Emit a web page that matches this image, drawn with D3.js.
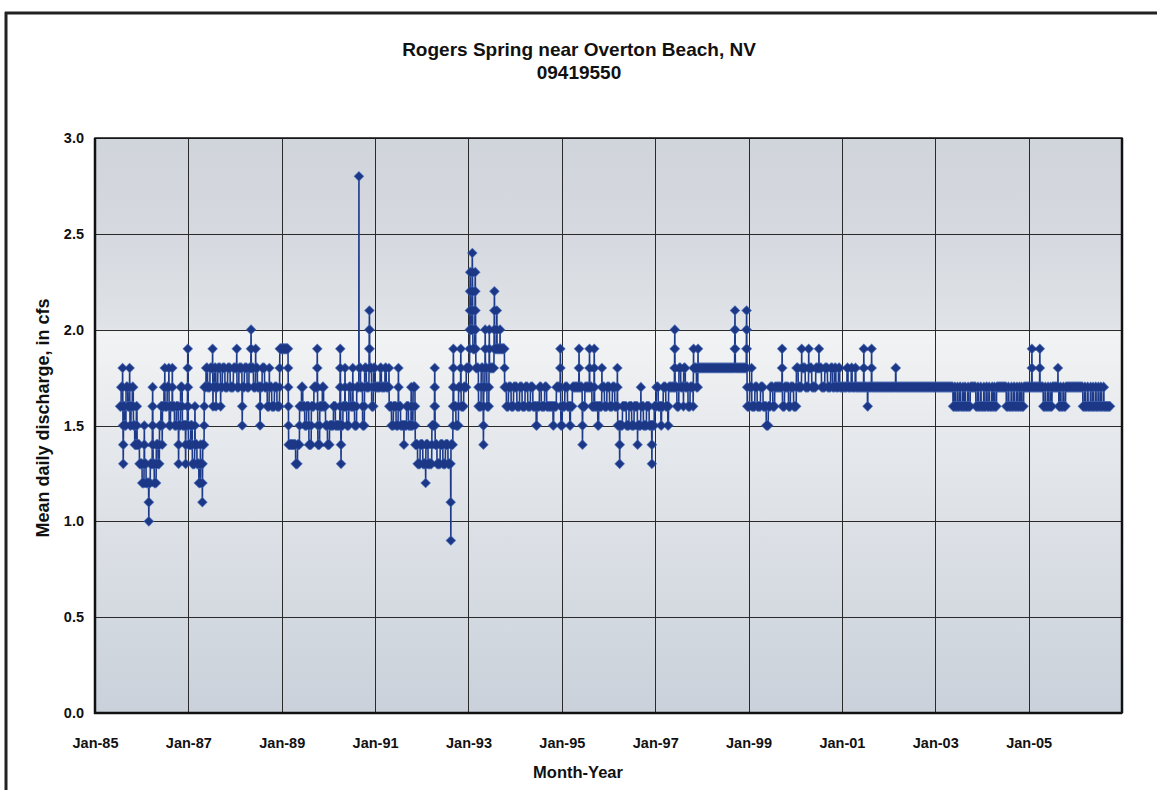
<!DOCTYPE html>
<html>
<head>
<meta charset="utf-8">
<script src="https://cdn.jsdelivr.net/npm/d3@7"></script>
<style>
  body { margin: 0; background: #ffffff; }
  svg text { font-family: "Liberation Sans", Arial, Helvetica, sans-serif; font-weight: bold; fill: #111; }
</style>
</head>
<body>
<svg id="chart" width="1157" height="795"></svg>
<script>
// ---- chart text ----
const titleLines = ["Rogers Spring near Overton Beach, NV", "09419550"];
const yAxisTitle = "Mean daily discharge, in cfs";
const xAxisTitle = "Month-Year";

// ---- axes ----
const yTicks = [0.0, 0.5, 1.0, 1.5, 2.0, 2.5, 3.0];
const xTickYears = [1985, 1987, 1989, 1991, 1993, 1995, 1997, 1999, 2001, 2003, 2005];
const xDomainYears = [1985, 2007];

// ---- daily mean discharge (cfs), run-length encoded ----
// Each entry: start date, then consecutive daily values ("v*n" = n days of v).
// The last value of an entry holds until the next entry starts.
const seriesEnd = "2006-09-30";
const flowRuns = [
  ["1985-07-16", "1.6"],
  ["1985-07-25", "1.7"],
  ["1985-08-05", "1.8 1.7 1.6 1.5 1.4 1.3 1.4 1.5 1.6"],
  ["1985-08-20", "1.5"],
  ["1985-09-01", "1.7"],
  ["1985-09-15", "1.6"],
  ["1985-09-28", "1.7 1.8 1.7 1.6 1.5"],
  ["1985-10-10", "1.6"],
  ["1985-10-20", "1.7"],
  ["1985-10-28", "1.6 1.5"],
  ["1985-11-08", "1.4"],
  ["1985-11-20", "1.5 1.6"],
  ["1985-11-26", "1.5 1.4"],
  ["1985-12-15", "1.3"],
  ["1986-01-05", "1.2"],
  ["1986-01-20", "1.3 1.4 1.5 1.4 1.3"],
  ["1986-02-05", "1.2"],
  ["1986-02-25", "1.1 1.0 1.1 1.2"],
  ["1986-03-10", "1.3"],
  ["1986-03-25", "1.4 1.5 1.6 1.7 1.6 1.5 1.4 1.3"],
  ["1986-04-10", "1.2"],
  ["1986-04-25", "1.3 1.4"],
  ["1986-05-10", "1.3"],
  ["1986-05-20", "1.4 1.5"],
  ["1986-06-01", "1.6"],
  ["1986-06-10", "1.5 1.4 1.5 1.6"],
  ["1986-06-25", "1.7"],
  ["1986-07-01", "1.8 1.7 1.6"],
  ["1986-07-20", "1.7"],
  ["1986-08-02", "1.8 1.7 1.6 1.5"],
  ["1986-08-15", "1.6"],
  ["1986-08-28", "1.7 1.8 1.7 1.6"],
  ["1986-09-15", "1.5"],
  ["1986-09-30", "1.6"],
  ["1986-10-15", "1.5 1.4 1.3 1.4 1.5"],
  ["1986-11-01", "1.6 1.7"],
  ["1986-11-15", "1.6 1.5"],
  ["1986-12-10", "1.4 1.3 1.4 1.5"],
  ["1986-12-25", "1.6 1.7 1.8 1.9 1.8 1.7 1.6 1.5 1.4"],
  ["1987-01-20", "1.5"],
  ["1987-02-01", "1.4 1.3"],
  ["1987-02-20", "1.4 1.5 1.6 1.5 1.4"],
  ["1987-03-10", "1.3"],
  ["1987-03-25", "1.2"],
  ["1987-04-05", "1.3 1.4 1.3"],
  ["1987-04-20", "1.2 1.1 1.2 1.3 1.4"],
  ["1987-05-05", "1.5 1.6 1.7"],
  ["1987-05-20", "1.8"],
  ["1987-06-01", "1.7"],
  ["1987-06-20", "1.8"],
  ["1987-07-10", "1.9 1.8 1.7 1.6 1.7"],
  ["1987-07-25", "1.8"],
  ["1987-08-05", "1.7 1.6 1.7"],
  ["1987-08-20", "1.8"],
  ["1987-09-10", "1.7 1.6 1.7"],
  ["1987-09-25", "1.8"],
  ["1987-10-15", "1.7"],
  ["1987-11-05", "1.8"],
  ["1987-11-25", "1.7"],
  ["1987-12-20", "1.8"],
  ["1988-01-15", "1.9 1.8 1.7"],
  ["1988-02-01", "1.8"],
  ["1988-02-25", "1.7 1.6 1.5 1.6 1.7"],
  ["1988-03-15", "1.8"],
  ["1988-04-05", "1.7"],
  ["1988-04-20", "1.8"],
  ["1988-05-05", "1.9 2.0 1.9 1.8"],
  ["1988-05-25", "1.7"],
  ["1988-06-10", "1.8 1.9 1.8"],
  ["1988-06-25", "1.7"],
  ["1988-07-15", "1.6 1.5 1.6 1.7"],
  ["1988-08-01", "1.8"],
  ["1988-08-20", "1.7"],
  ["1988-09-10", "1.6"],
  ["1988-09-25", "1.7 1.8 1.7"],
  ["1988-10-15", "1.6"],
  ["1988-11-05", "1.7"],
  ["1988-11-25", "1.6"],
  ["1988-12-15", "1.7 1.8 1.9"],
  ["1989-02-20", "1.8 1.7 1.6 1.5 1.4"],
  ["1989-04-20", "1.3"],
  ["1989-05-05", "1.4"],
  ["1989-05-20", "1.5 1.6"],
  ["1989-06-05", "1.7"],
  ["1989-06-15", "1.6"],
  ["1989-06-30", "1.5"],
  ["1989-07-15", "1.6"],
  ["1989-08-01", "1.5 1.4"],
  ["1989-08-20", "1.5 1.6"],
  ["1989-09-10", "1.7"],
  ["1989-10-05", "1.8 1.9 1.8 1.7 1.6 1.5 1.4"],
  ["1989-10-25", "1.5 1.6"],
  ["1989-11-15", "1.7"],
  ["1989-11-25", "1.6"],
  ["1989-12-10", "1.5"],
  ["1989-12-25", "1.4"],
  ["1990-01-10", "1.5"],
  ["1990-02-10", "1.6"],
  ["1990-02-25", "1.5"],
  ["1990-04-01", "1.6 1.7 1.8 1.9 1.8 1.7 1.6 1.5 1.4 1.3 1.4 1.5"],
  ["1990-04-25", "1.6"],
  ["1990-05-10", "1.7 1.8 1.7 1.6"],
  ["1990-05-25", "1.5"],
  ["1990-06-10", "1.6 1.7"],
  ["1990-06-25", "1.6"],
  ["1990-07-10", "1.7 1.8 1.7 1.6"],
  ["1990-07-25", "1.5"],
  ["1990-08-10", "1.6 1.7"],
  ["1990-08-28", "2.8 1.8"],
  ["1990-09-10", "1.7"],
  ["1990-09-25", "1.6 1.5"],
  ["1990-10-10", "1.6 1.7 1.8"],
  ["1990-10-25", "1.7"],
  ["1990-11-15", "1.8 1.9 2.0 2.1 2.0 1.9 1.8"],
  ["1990-12-05", "1.7 1.6"],
  ["1990-12-20", "1.7 1.8"],
  ["1991-01-01", "1.7"],
  ["1991-02-10", "1.8"],
  ["1991-02-20", "1.7"],
  ["1991-03-20", "1.8"],
  ["1991-03-30", "1.7"],
  ["1991-04-20", "1.8 1.7 1.6"],
  ["1991-05-10", "1.5"],
  ["1991-05-25", "1.6"],
  ["1991-06-15", "1.5"],
  ["1991-07-01", "1.6 1.7 1.8 1.7 1.6"],
  ["1991-07-20", "1.5"],
  ["1991-08-15", "1.4 1.5"],
  ["1991-09-05", "1.6"],
  ["1991-09-20", "1.5"],
  ["1991-10-10", "1.6 1.7 1.6 1.5"],
  ["1991-10-25", "1.6 1.7"],
  ["1991-11-10", "1.6 1.5 1.4"],
  ["1991-11-30", "1.3"],
  ["1991-12-20", "1.4"],
  ["1992-01-10", "1.3"],
  ["1992-02-01", "1.2 1.3 1.4"],
  ["1992-02-20", "1.3"],
  ["1992-03-20", "1.4 1.5"],
  ["1992-04-10", "1.6 1.7 1.8 1.7 1.6 1.5 1.4"],
  ["1992-04-30", "1.3"],
  ["1992-05-25", "1.4"],
  ["1992-06-15", "1.3"],
  ["1992-07-05", "1.4"],
  ["1992-07-25", "1.3"],
  ["1992-08-15", "1.1 0.9 1.4"],
  ["1992-09-01", "1.5 1.6 1.7 1.8 1.9 1.8 1.7 1.6"],
  ["1992-09-25", "1.5"],
  ["1992-10-15", "1.6 1.7"],
  ["1992-11-01", "1.8 1.9 1.8 1.7 1.6"],
  ["1992-11-25", "1.7"],
  ["1992-12-15", "1.8"],
  ["1993-01-10", "1.9 2.0 2.1 2.2 2.3 2.2 2.1 2.0"],
  ["1993-01-28", "2.1 2.2 2.3 2.4 2.3 2.2 2.1 2.0 1.9"],
  ["1993-02-20", "2.0 2.1 2.2 2.3 2.2 2.1 2.0 1.9 1.8"],
  ["1993-03-20", "1.7 1.6"],
  ["1993-04-10", "1.7 1.8"],
  ["1993-04-25", "1.7 1.6 1.5 1.4 1.5 1.6 1.7"],
  ["1993-05-10", "1.8 1.9 2.0 1.9 1.8"],
  ["1993-05-25", "1.7 1.6"],
  ["1993-06-10", "1.7 1.8 1.9 2.0 1.9 1.8"],
  ["1993-07-20", "1.9 2.0 2.1 2.2 2.1 2.0 1.9"],
  ["1993-08-10", "2.0 2.1 2.0 1.9"],
  ["1993-09-05", "2.0 1.9"],
  ["1993-10-10", "1.8 1.7"],
  ["1993-10-25", "1.6"],
  ["1993-11-10", "1.7"],
  ["1993-12-01", "1.6"],
  ["1993-12-20", "1.7"],
  ["1994-01-15", "1.6"],
  ["1994-02-05", "1.7"],
  ["1994-02-25", "1.6"],
  ["1994-03-20", "1.7"],
  ["1994-04-10", "1.6"],
  ["1994-05-01", "1.7"],
  ["1994-05-20", "1.6"],
  ["1994-06-15", "1.5*6 1.6"],
  ["1994-07-10", "1.7"],
  ["1994-07-25", "1.6"],
  ["1994-08-20", "1.7"],
  ["1994-09-05", "1.6"],
  ["1994-10-25", "1.5*5 1.6"],
  ["1994-11-20", "1.7"],
  ["1994-12-20", "1.8 1.9 1.8 1.7 1.6 1.5"],
  ["1995-01-05", "1.6"],
  ["1995-01-25", "1.7"],
  ["1995-02-15", "1.6"],
  ["1995-03-05", "1.5*5 1.6"],
  ["1995-03-25", "1.7"],
  ["1995-05-15", "1.8 1.9 1.8 1.7"],
  ["1995-06-10", "1.6 1.5 1.4 1.5 1.6"],
  ["1995-07-01", "1.7"],
  ["1995-08-05", "1.8 1.9 1.8 1.7"],
  ["1995-08-25", "1.6"],
  ["1995-09-10", "1.7 1.8 1.9 1.8 1.7 1.6"],
  ["1995-10-10", "1.5*7 1.6"],
  ["1995-11-10", "1.7 1.8 1.7"],
  ["1995-12-01", "1.6"],
  ["1995-12-20", "1.7"],
  ["1996-01-10", "1.6"],
  ["1996-02-01", "1.7"],
  ["1996-02-20", "1.6"],
  ["1996-03-10", "1.7 1.8 1.7 1.6 1.5"],
  ["1996-03-28", "1.4 1.3 1.4 1.5"],
  ["1996-04-20", "1.6"],
  ["1996-05-20", "1.5"],
  ["1996-06-10", "1.6"],
  ["1996-07-01", "1.5"],
  ["1996-07-20", "1.6"],
  ["1996-08-15", "1.5 1.4 1.5"],
  ["1996-09-10", "1.6 1.7 1.6"],
  ["1996-10-01", "1.5"],
  ["1996-10-25", "1.6"],
  ["1996-11-15", "1.5"],
  ["1996-12-05", "1.4 1.3 1.4 1.5"],
  ["1996-12-25", "1.6"],
  ["1997-01-10", "1.7"],
  ["1997-01-25", "1.6"],
  ["1997-02-15", "1.5*5 1.6"],
  ["1997-03-05", "1.7"],
  ["1997-03-25", "1.6"],
  ["1997-04-10", "1.5*5 1.6 1.7"],
  ["1997-06-01", "1.8 1.9 2.0 1.9 1.8 1.7"],
  ["1997-06-20", "1.6"],
  ["1997-07-05", "1.7 1.8"],
  ["1997-07-20", "1.7"],
  ["1997-08-10", "1.6 1.7 1.8"],
  ["1997-08-25", "1.7"],
  ["1997-09-15", "1.6"],
  ["1997-10-01", "1.7"],
  ["1997-10-25", "1.6 1.7 1.8 1.9 1.8"],
  ["1997-11-20", "1.7"],
  ["1997-12-01", "1.8 1.9 1.8"],
  ["1998-09-15", "1.9 2.0 2.1 2.0 1.9 1.8"],
  ["1998-12-15", "1.9 2.0 2.1 2.0 1.9 1.8 1.7 1.6"],
  ["1999-01-10", "1.7"],
  ["1999-01-25", "1.8 1.7 1.6"],
  ["1999-02-20", "1.7"],
  ["1999-03-10", "1.6"],
  ["1999-04-05", "1.7"],
  ["1999-04-25", "1.6"],
  ["1999-05-20", "1.5"],
  ["1999-06-05", "1.6"],
  ["1999-06-20", "1.7"],
  ["1999-07-10", "1.6"],
  ["1999-07-25", "1.7"],
  ["1999-09-20", "1.8 1.9 1.8 1.7 1.6"],
  ["1999-10-10", "1.7"],
  ["1999-11-10", "1.6"],
  ["1999-11-25", "1.7"],
  ["1999-12-20", "1.6"],
  ["2000-01-10", "1.7 1.8"],
  ["2000-01-25", "1.7"],
  ["2000-02-20", "1.8 1.9 1.8"],
  ["2000-03-20", "1.7"],
  ["2000-04-15", "1.8 1.9 1.8"],
  ["2000-05-10", "1.7"],
  ["2000-06-10", "1.8"],
  ["2000-07-05", "1.9 1.8"],
  ["2000-07-25", "1.7"],
  ["2000-08-20", "1.8"],
  ["2000-09-10", "1.7"],
  ["2000-10-05", "1.8"],
  ["2000-10-20", "1.7"],
  ["2000-11-05", "1.8"],
  ["2000-11-15", "1.7"],
  ["2000-12-05", "1.8"],
  ["2000-12-15", "1.7"],
  ["2001-02-10", "1.8*8 1.7"],
  ["2001-03-15", "1.8*7 1.7"],
  ["2001-04-15", "1.8*5 1.7"],
  ["2001-06-20", "1.8 1.9 1.8 1.7"],
  ["2001-07-20", "1.6*3 1.7"],
  ["2001-08-20", "1.8 1.9 1.8 1.7"],
  ["2002-02-25", "1.8*3 1.7"],
  ["2003-05-20", "1.6*12 1.7*6 1.6*15 1.7*5 1.6*14 1.7*8 1.6*16 1.7*4 1.6*12 1.7*6 1.6*18 1.7*5 1.6*14 1.7"],
  ["2003-11-15", "1.6*14 1.7*5 1.6*16 1.7*6 1.6*20 1.7*4 1.6*15 1.7*8 1.6*14 1.7*5 1.6*18 1.7*6 1.6*12 1.7*5 1.6*14 1.7"],
  ["2004-07-10", "1.6*14 1.7*6 1.6*18 1.7*5 1.6*15 1.7*7 1.6*16 1.7*5 1.6*14 1.7*6 1.6*12 1.7*4 1.6*14 1.7"],
  ["2005-01-25", "1.8 1.9 1.8 1.7"],
  ["2005-03-28", "1.8 1.9 1.8 1.7"],
  ["2005-04-25", "1.6*14 1.7*5 1.6*16 1.7*6 1.6*14 1.7*4 1.6*10 1.7"],
  ["2005-08-18", "1.8 1.7"],
  ["2005-08-25", "1.6*12 1.7*5 1.6*16 1.7*6 1.6*14 1.7"],
  ["2006-03-01", "1.6*14 1.7*5 1.6*16 1.7*6 1.6*18 1.7*5 1.6*14 1.7*4 1.6*16 1.7*6 1.6*15 1.7*5 1.6*14 1.7*6 1.6*16 1.7*5 1.6"]
];

// ---- expand runs into a daily series ----
const parseDay = d3.timeParse("%Y-%m-%d");
const daily = [];
flowRuns.forEach(([start, seq], i) => {
  const from = parseDay(start);
  const to = i + 1 < flowRuns.length
    ? parseDay(flowRuns[i + 1][0])
    : d3.timeDay.offset(parseDay(seriesEnd), 1);
  const vals = [];
  seq.split(/\s+/).forEach(tok => {
    const [v, n] = tok.split("*");
    for (let k = 0; k < (n ? +n : 1); k++) vals.push(+v);
  });
  d3.timeDay.range(from, to).forEach((d, k) => {
    daily.push({ date: d, value: vals[Math.min(k, vals.length - 1)] });
  });
});

// ---- layout ----
const svg = d3.select("#chart");
const plot = { left: 95, right: 1122, top: 138, bottom: 713 };

const x = d3.scaleTime()
  .domain(xDomainYears.map(yr => new Date(yr, 0, 1)))
  .range([plot.left, plot.right]);
const y = d3.scaleLinear().domain([0, 3]).range([plot.bottom, plot.top]);

// outer frame (top and left rules)
svg.append("line").attr("x1", 5).attr("x2", 1157).attr("y1", 13).attr("y2", 13)
  .attr("stroke", "#222").attr("stroke-width", 3);
svg.append("line").attr("x1", 6).attr("x2", 6).attr("y1", 12).attr("y2", 790)
  .attr("stroke", "#222").attr("stroke-width", 3);

// plot background gradient
const defs = svg.append("defs");
const grad = defs.append("linearGradient").attr("id", "plotBg")
  .attr("x1", 0).attr("y1", 0).attr("x2", 0).attr("y2", 1);
[[0, "#d0d4db"], [0.2, "#d7dae0"], [0.332, "#e0e3e7"], [0.337, "#f2f3f4"],
 [0.55, "#e4e7eb"], [1, "#cad1da"]].forEach(([o, c]) =>
  grad.append("stop").attr("offset", o).attr("stop-color", c));

svg.append("rect")
  .attr("x", plot.left).attr("y", plot.top)
  .attr("width", plot.right - plot.left).attr("height", plot.bottom - plot.top)
  .attr("fill", "url(#plotBg)");

// gridlines
const grid = svg.append("g").attr("stroke", "#2a2a2a").attr("stroke-width", 1);
yTicks.forEach(v => grid.append("line")
  .attr("x1", plot.left).attr("x2", plot.right)
  .attr("y1", Math.round(y(v)) + 0.5).attr("y2", Math.round(y(v)) + 0.5));
xTickYears.forEach(yr => grid.append("line")
  .attr("x1", Math.round(x(new Date(yr, 0, 1))) + 0.5).attr("x2", Math.round(x(new Date(yr, 0, 1))) + 0.5)
  .attr("y1", plot.top).attr("y2", plot.bottom));

// plot frame
svg.append("rect")
  .attr("x", plot.left).attr("y", plot.top)
  .attr("width", plot.right - plot.left).attr("height", plot.bottom - plot.top)
  .attr("fill", "none").attr("stroke", "#111").attr("stroke-width", 1.5);
svg.append("line").attr("x1", plot.left).attr("x2", plot.left)
  .attr("y1", plot.top).attr("y2", plot.bottom + 1).attr("stroke", "#111").attr("stroke-width", 2.5);
svg.append("line").attr("x1", plot.left - 1).attr("x2", plot.right)
  .attr("y1", plot.bottom).attr("y2", plot.bottom).attr("stroke", "#111").attr("stroke-width", 2.5);
svg.append("line").attr("x1", plot.right).attr("x2", plot.right)
  .attr("y1", plot.top).attr("y2", plot.bottom).attr("stroke", "#111").attr("stroke-width", 2.5);

// axes labels
const yAxis = d3.axisLeft(y).tickValues(yTicks).tickFormat(d3.format(".1f")).tickSize(0).tickPadding(11);
svg.append("g").attr("transform", `translate(${plot.left},0)`).call(yAxis)
  .call(g => g.select(".domain").remove())
  .selectAll("text").attr("font-size", 14.5).attr("font-family", null).attr("fill", "#111");

const xAxis = d3.axisBottom(x)
  .tickValues(xTickYears.map(yr => new Date(yr, 0, 1)))
  .tickFormat(d3.timeFormat("Jan-%y")).tickSize(0).tickPadding(25);
svg.append("g").attr("transform", `translate(0,${plot.bottom})`).call(xAxis)
  .call(g => g.select(".domain").remove())
  .selectAll("text").attr("font-size", 14.5).attr("font-family", null).attr("fill", "#111");

// titles
svg.append("text").attr("x", 579).attr("y", 56).attr("text-anchor", "middle")
  .attr("font-size", 19).text(titleLines[0]);
svg.append("text").attr("x", 579).attr("y", 79).attr("text-anchor", "middle")
  .attr("font-size", 19).text(titleLines[1]);
svg.append("text").attr("x", 578).attr("y", 778).attr("text-anchor", "middle")
  .attr("font-size", 16.5).text(xAxisTitle);
svg.append("text").attr("transform", "translate(49,418) rotate(-90)")
  .attr("text-anchor", "middle").attr("font-size", 18).text(yAxisTitle);

// ---- series: connecting line + diamond markers ----
const line = d3.line().x(d => x(d.date)).y(d => y(d.value));
svg.append("path").datum(daily)
  .attr("d", line).attr("fill", "none")
  .attr("stroke", "#1d3a8a").attr("stroke-width", 1.6);

function diamonds(data, r) {
  const p = d3.path();
  data.forEach(d => {
    const cx = x(d.date), cy = y(d.value);
    p.moveTo(cx, cy - r); p.lineTo(cx + r, cy); p.lineTo(cx, cy + r); p.lineTo(cx - r, cy); p.closePath();
  });
  return p.toString();
}
svg.append("path").attr("d", diamonds(daily, 5.3)).attr("fill", "#3a5fb0").attr("opacity", 0.85);
svg.append("path").attr("d", diamonds(daily, 4.3)).attr("fill", "#1c3786");
</script>
</body>
</html>
